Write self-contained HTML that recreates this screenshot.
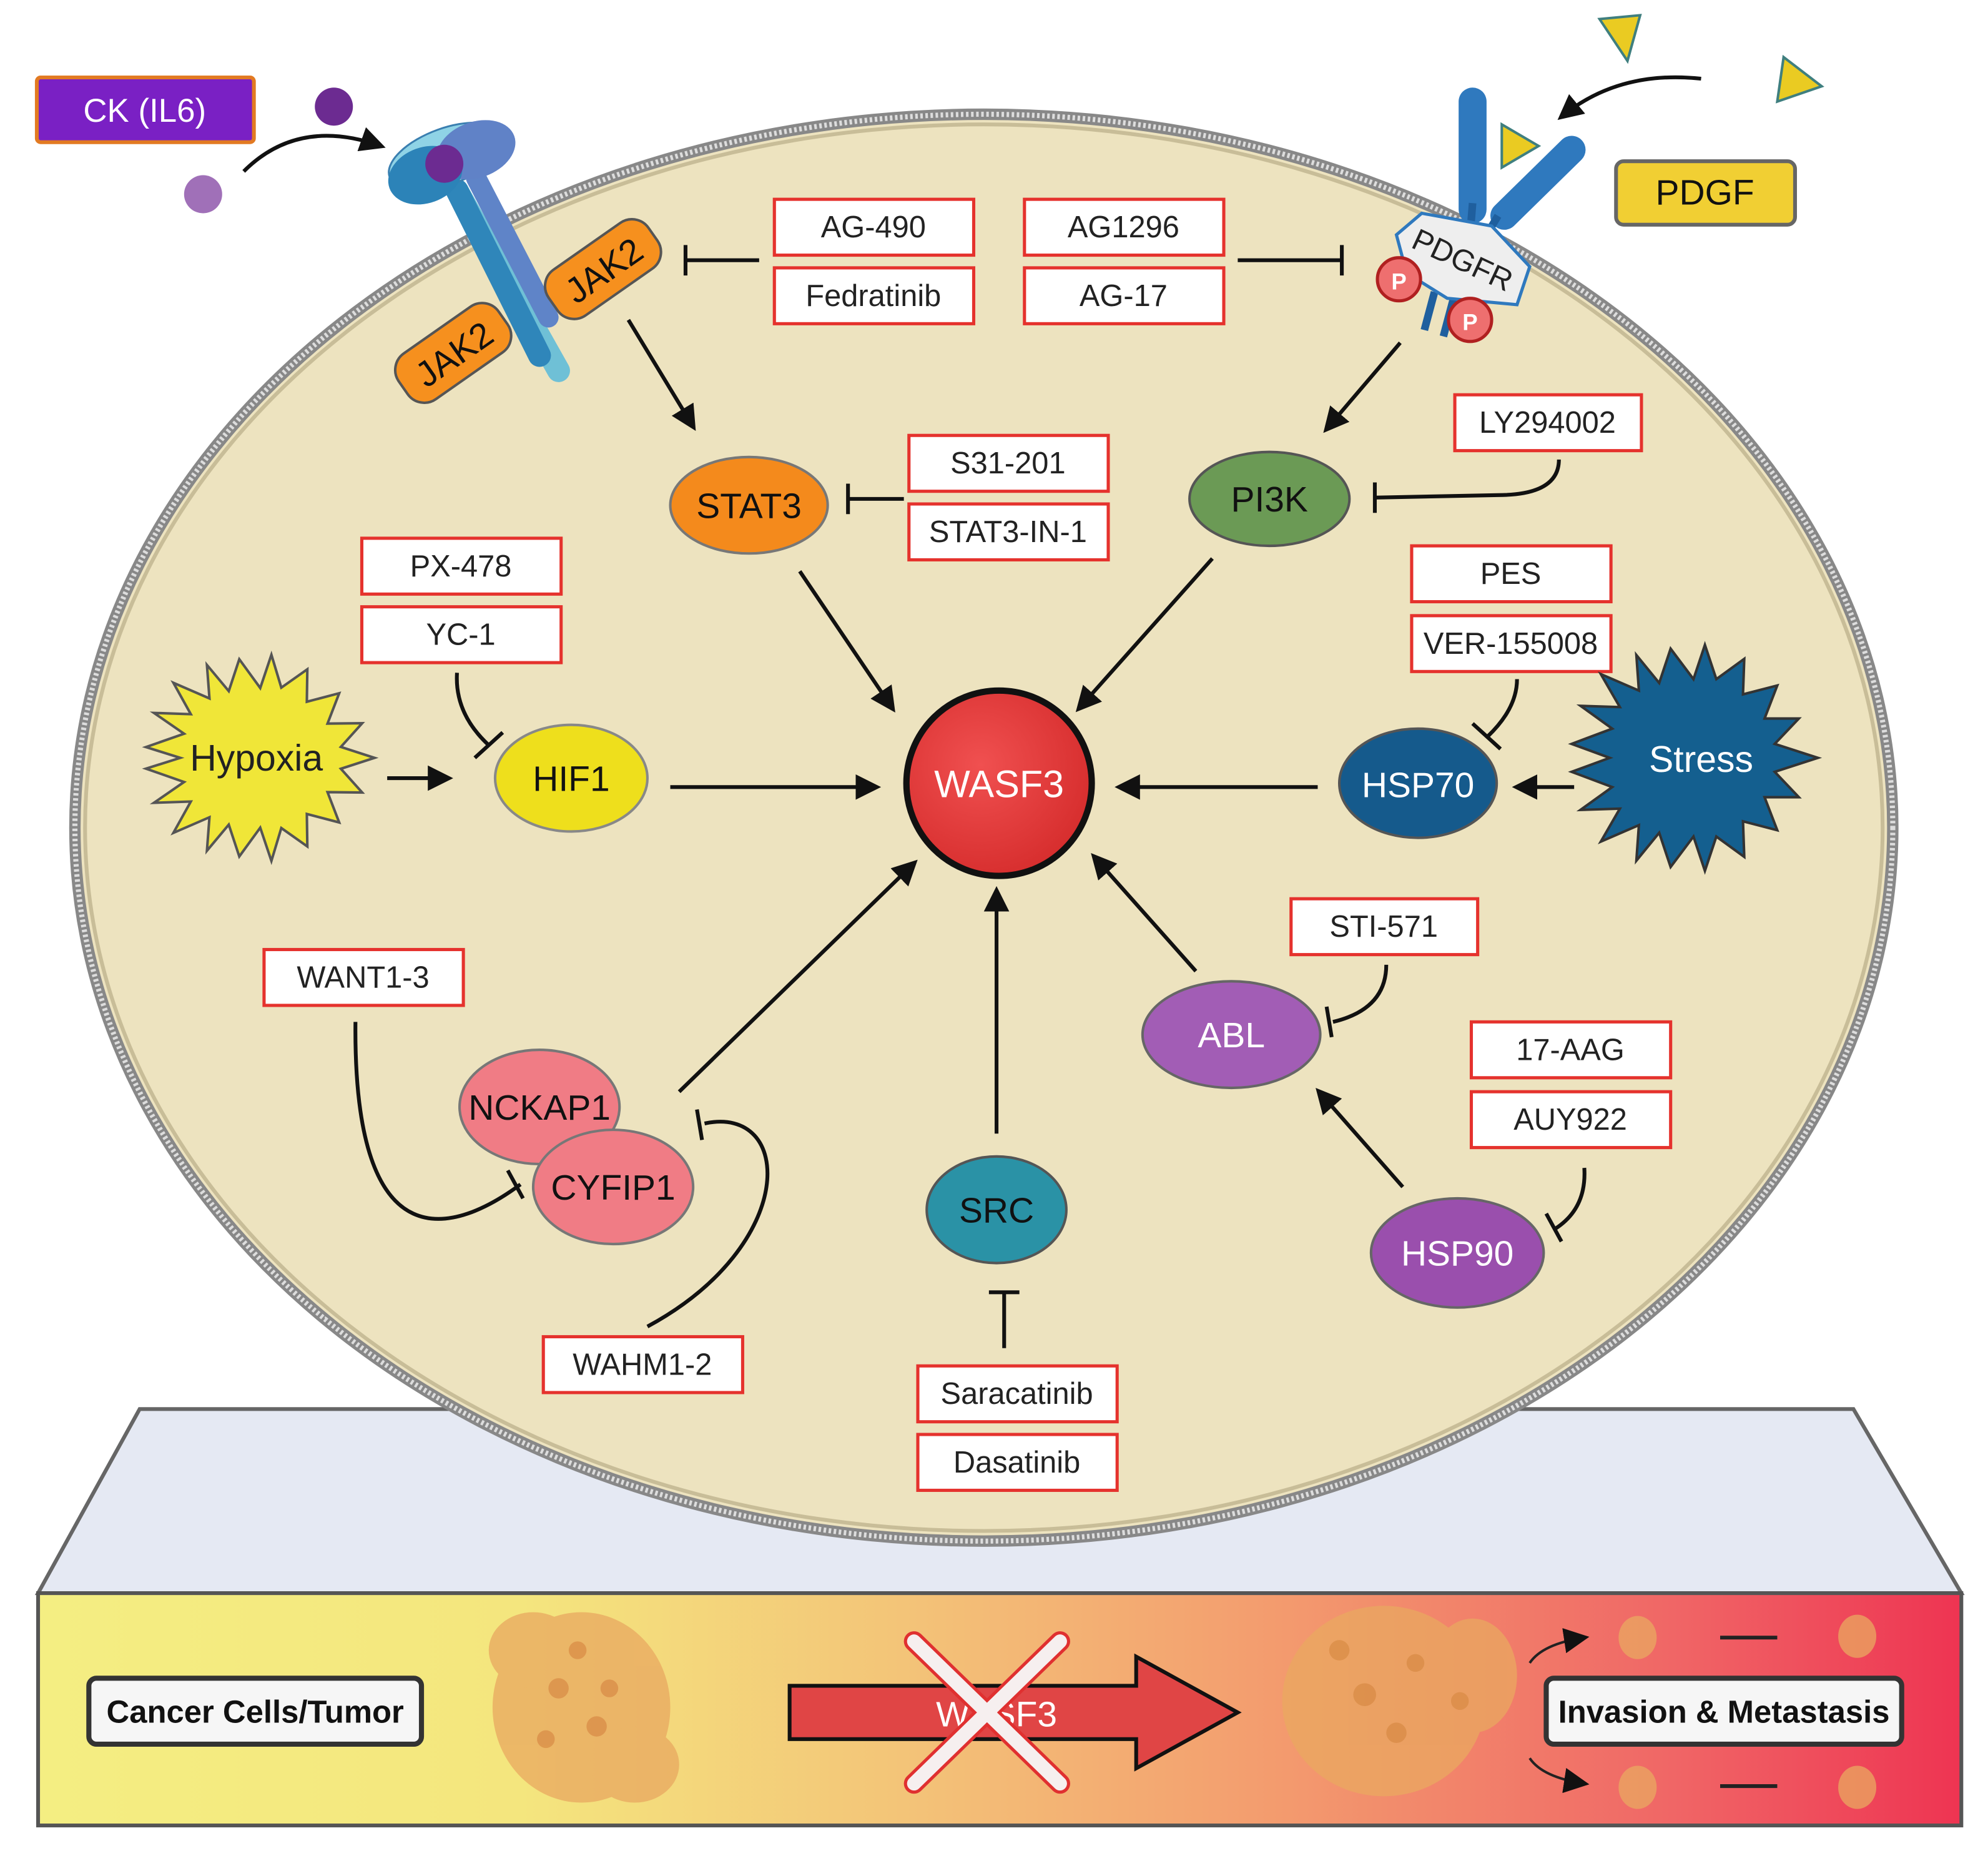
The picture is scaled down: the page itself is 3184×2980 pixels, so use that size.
<!DOCTYPE html>
<html><head><meta charset="utf-8"><style>
html,body{margin:0;padding:0;background:#fff}
svg{display:block}
text{font-family:"Liberation Sans",sans-serif}
</style></head><body>
<svg width="3184" height="2980" viewBox="0 0 1566 1466" preserveAspectRatio="none" xmlns="http://www.w3.org/2000/svg">
<defs>
<marker id="a" viewBox="0 0 10 10" refX="8" refY="5" markerWidth="20" markerHeight="20" markerUnits="userSpaceOnUse" orient="auto"><path d="M0,0 L10,5 L0,10 z" fill="#111"/></marker>
<linearGradient id="bg" x1="0" x2="1" y1="0" y2="0">
<stop offset="0" stop-color="#f4ee82"/><stop offset="0.25" stop-color="#f4e67e"/><stop offset="0.45" stop-color="#f3c478"/><stop offset="0.65" stop-color="#f39a6e"/><stop offset="0.85" stop-color="#f06666"/><stop offset="1" stop-color="#ee3452"/></linearGradient>
<radialGradient id="wg" cx="0.4" cy="0.4" r="0.7"><stop offset="0" stop-color="#f05050"/><stop offset="1" stop-color="#d42a2a"/></radialGradient>
</defs>

<polygon points="110,1110 1460,1110 1545,1255 30,1255" fill="#e5e9f3" stroke="#666" stroke-width="3"/>
<rect x="30" y="1255" width="1515" height="183" fill="url(#bg)" stroke="#555" stroke-width="3"/>

<ellipse cx="775" cy="652" rx="716" ry="562" fill="#ede3bf" stroke="#888" stroke-width="9"/>
<ellipse cx="775" cy="652" rx="716" ry="562" fill="none" stroke="#ddd" stroke-width="4" stroke-dasharray="2 2"/>
<ellipse cx="775" cy="652" rx="708" ry="554" fill="none" stroke="#c8bd98" stroke-width="3"/>

<rect x="29" y="61" width="171" height="51" rx="3" fill="#7a20c4" stroke="#e27a22" stroke-width="3"/>
<text x="114" y="96" font-size="26" fill="#fff" text-anchor="middle">CK (IL6)</text>
<circle cx="263" cy="84" r="15" fill="#6c2b91"/>
<circle cx="160" cy="153" r="15" fill="#a070b8"/>
<path d="M192,135 Q235,92 300,115" fill="none" stroke="#111" stroke-width="3" marker-end="url(#a)"/>

<g>
<line x1="360" y1="150" x2="440" y2="292" stroke="#6fc0d6" stroke-width="18" stroke-linecap="round"/>
<line x1="360" y1="150" x2="425" y2="280" stroke="#2f86ba" stroke-width="18" stroke-linecap="round"/>
<line x1="375" y1="140" x2="432" y2="250" stroke="#5f84c8" stroke-width="16" stroke-linecap="round"/>
<ellipse cx="352" cy="123" rx="48" ry="22" transform="rotate(-20 352 123)" fill="#8fd3e6" stroke="#3a7fb0" stroke-width="1.5"/>
<ellipse cx="375" cy="118" rx="32" ry="22" transform="rotate(-20 375 118)" fill="#6082c7"/>
<ellipse cx="335" cy="138" rx="30" ry="22" transform="rotate(-20 335 138)" fill="#2c83b8"/>
<circle cx="350" cy="129" r="15" fill="#6c2b91"/>
</g>
<g transform="rotate(-35 475 212)"><rect x="427" y="190" width="96" height="44" rx="16" fill="#f6901e" stroke="#555" stroke-width="2"/><text x="475" y="223" font-size="28" text-anchor="middle" fill="#111">JAK2</text></g>
<g transform="rotate(-35 357 278)"><rect x="309" y="256" width="96" height="44" rx="16" fill="#f6901e" stroke="#555" stroke-width="2"/><text x="357" y="289" font-size="28" text-anchor="middle" fill="#111">JAK2</text></g>

<polygon points="1260,15 1292,12 1282,48" fill="#eacb22" stroke="#3f7f7f" stroke-width="2"/>
<polygon points="1405,45 1435,68 1400,80" fill="#eacb22" stroke="#3f7f7f" stroke-width="2"/>
<polygon points="1183,98 1212,115 1183,132" fill="#eacb22" stroke="#3f7f7f" stroke-width="2"/>
<path d="M1340,62 Q1275,55 1230,92" fill="none" stroke="#111" stroke-width="3" marker-end="url(#a)"/>
<line x1="1160" y1="80" x2="1160" y2="165" stroke="#2f79be" stroke-width="22" stroke-linecap="round"/>
<line x1="1238" y1="118" x2="1185" y2="170" stroke="#2f79be" stroke-width="22" stroke-linecap="round"/>
<line x1="1160" y1="160" x2="1158" y2="185" stroke="#1f5f9e" stroke-width="6"/>
<line x1="1180" y1="170" x2="1168" y2="190" stroke="#1f5f9e" stroke-width="6"/>
<line x1="1130" y1="230" x2="1122" y2="260" stroke="#1f5f9e" stroke-width="6"/>
<line x1="1145" y1="235" x2="1137" y2="265" stroke="#1f5f9e" stroke-width="6"/>
<polygon points="1120,168 1175,178 1205,210 1195,240 1140,235 1108,215 1100,185" fill="#eee" stroke="#2f79be" stroke-width="2.5"/>
<text x="1152" y="213" font-size="24" text-anchor="middle" fill="#222" transform="rotate(25 1152 205)">PDGFR</text>
<circle cx="1102" cy="220" r="17" fill="#ee6f6f" stroke="#b02020" stroke-width="2.5"/><text x="1102" y="228" font-size="18" fill="#fff" text-anchor="middle" font-weight="bold">P</text>
<circle cx="1158" cy="252" r="17" fill="#ee6f6f" stroke="#b02020" stroke-width="2.5"/><text x="1158" y="260" font-size="18" fill="#fff" text-anchor="middle" font-weight="bold">P</text>
<rect x="1273" y="127" width="141" height="50" rx="6" fill="#f1cf33" stroke="#666" stroke-width="3"/>
<text x="1343" y="161" font-size="28" text-anchor="middle" fill="#111">PDGF</text>

<g fill="#fff" stroke="#e5322d" stroke-width="2.5">
<rect x="610" y="157" width="157" height="44"/><rect x="610" y="211" width="157" height="44"/>
<rect x="807" y="157" width="157" height="44"/><rect x="807" y="211" width="157" height="44"/>
<rect x="716" y="343" width="157" height="44"/><rect x="716" y="397" width="157" height="44"/>
<rect x="1146" y="311" width="147" height="44"/>
<rect x="1112" y="430" width="157" height="44"/><rect x="1112" y="485" width="157" height="44"/>
<rect x="285" y="424" width="157" height="44"/><rect x="285" y="478" width="157" height="44"/>
<rect x="208" y="748" width="157" height="44"/>
<rect x="428" y="1053" width="157" height="44"/>
<rect x="1017" y="708" width="147" height="44"/>
<rect x="1159" y="805" width="157" height="44"/><rect x="1159" y="860" width="157" height="44"/>
<rect x="723" y="1076" width="157" height="44"/><rect x="723" y="1130" width="157" height="44"/>
</g>
<g font-size="24" text-anchor="middle" fill="#222">
<text x="688" y="187">AG-490</text><text x="688" y="241">Fedratinib</text>
<text x="885" y="187">AG1296</text><text x="885" y="241">AG-17</text>
<text x="794" y="373">S31-201</text><text x="794" y="427">STAT3-IN-1</text>
<text x="1219" y="341">LY294002</text>
<text x="1190" y="460">PES</text><text x="1190" y="515">VER-155008</text>
<text x="363" y="454">PX-478</text><text x="363" y="508">YC-1</text>
<text x="286" y="778">WANT1-3</text>
<text x="506" y="1083">WAHM1-2</text>
<text x="1090" y="738">STI-571</text>
<text x="1237" y="835">17-AAG</text><text x="1237" y="890">AUY922</text>
<text x="801" y="1106">Saracatinib</text><text x="801" y="1160">Dasatinib</text>
</g>

<g fill="none" stroke="#111" stroke-width="3">
<line x1="495" y1="252" x2="546" y2="336" marker-end="url(#a)"/>
<line x1="1103" y1="270" x2="1045" y2="338" marker-end="url(#a)"/>
<line x1="630" y1="450" x2="703" y2="558" marker-end="url(#a)"/>
<line x1="955" y1="440" x2="850" y2="558" marker-end="url(#a)"/>
<line x1="528" y1="620" x2="690" y2="620" marker-end="url(#a)"/>
<line x1="1038" y1="620" x2="882" y2="620" marker-end="url(#a)"/>
<line x1="305" y1="613" x2="353" y2="613" marker-end="url(#a)"/>
<line x1="1240" y1="620" x2="1195" y2="620" marker-end="url(#a)"/>
<line x1="942" y1="765" x2="862" y2="675" marker-end="url(#a)"/>
<line x1="785" y1="893" x2="785" y2="702" marker-end="url(#a)"/>
<line x1="535" y1="860" x2="720" y2="680" marker-end="url(#a)"/>
<line x1="1105" y1="935" x2="1039" y2="860" marker-end="url(#a)"/>
<line x1="598" y1="205" x2="540" y2="205"/><line x1="540" y1="193" x2="540" y2="217"/>
<line x1="975" y1="205" x2="1057" y2="205"/><line x1="1057" y1="193" x2="1057" y2="217"/>
<line x1="712" y1="393" x2="668" y2="393"/><line x1="668" y1="381" x2="668" y2="405"/>
<path d="M1228,362 Q1228,390 1180,390 L1083,392"/><line x1="1083" y1="380" x2="1083" y2="404"/>
<path d="M1195,535 Q1195,558 1172,580"/><line x1="1160" y1="570" x2="1182" y2="590"/>
<path d="M360,530 Q358,562 385,587"/><line x1="374" y1="597" x2="396" y2="577"/>
<path d="M280,805 C278,1000 360,970 410,933"/><line x1="400" y1="922" x2="412" y2="944"/>
<path d="M510,1045 C630,980 625,870 555,885"/><line x1="549" y1="874" x2="553" y2="898"/>
<path d="M1092,760 Q1092,795 1050,805"/><line x1="1045" y1="793" x2="1049" y2="817"/>
<path d="M1248,920 Q1250,952 1225,968"/><line x1="1218" y1="956" x2="1230" y2="978"/>
<line x1="791" y1="1062" x2="791" y2="1018"/><line x1="779" y1="1018" x2="803" y2="1018"/>
</g>

<ellipse cx="590" cy="398" rx="62" ry="38" fill="#f48a1c" stroke="#777" stroke-width="2"/>
<text x="590" y="408" font-size="28" text-anchor="middle" fill="#111">STAT3</text>
<ellipse cx="1000" cy="393" rx="63" ry="37" fill="#6b9a55" stroke="#555" stroke-width="2"/>
<text x="1000" y="403" font-size="28" text-anchor="middle" fill="#111">PI3K</text>
<circle cx="787" cy="617" r="73" fill="url(#wg)" stroke="#111" stroke-width="5"/>
<text x="787" y="628" font-size="30" text-anchor="middle" fill="#fff">WASF3</text>
<ellipse cx="450" cy="613" rx="60" ry="42" fill="#eedf1c" stroke="#888" stroke-width="2"/>
<text x="450" y="623" font-size="28" text-anchor="middle" fill="#111">HIF1</text>
<ellipse cx="1117" cy="617" rx="62" ry="43" fill="#155a8c" stroke="#555" stroke-width="2"/>
<text x="1117" y="628" font-size="28" text-anchor="middle" fill="#fff">HSP70</text>
<ellipse cx="970" cy="815" rx="70" ry="42" fill="#a25db5" stroke="#666" stroke-width="2"/>
<text x="970" y="825" font-size="28" text-anchor="middle" fill="#fff">ABL</text>
<ellipse cx="1148" cy="987" rx="68" ry="43" fill="#9a4fad" stroke="#666" stroke-width="2"/>
<text x="1148" y="997" font-size="28" text-anchor="middle" fill="#fff">HSP90</text>
<ellipse cx="785" cy="953" rx="55" ry="42" fill="#2a92a6" stroke="#555" stroke-width="2"/>
<text x="785" y="963" font-size="28" text-anchor="middle" fill="#111">SRC</text>
<ellipse cx="425" cy="872" rx="63" ry="45" fill="#f07c85" stroke="#777" stroke-width="2"/>
<text x="425" y="882" font-size="28" text-anchor="middle" fill="#111">NCKAP1</text>
<ellipse cx="483" cy="935" rx="63" ry="45" fill="#f07c85" stroke="#777" stroke-width="2"/>
<text x="483" y="945" font-size="28" text-anchor="middle" fill="#111">CYFIP1</text>

<polygon fill="#f0e638" stroke="#555" stroke-width="2" points="295.0,597.0 268.5,605.6 285.3,624.3 258.0,624.0 267.2,647.9 241.7,641.2 242.1,666.8 221.6,652.3 213.8,678.2 205.0,652.0 188.5,674.7 180.2,649.6 163.0,670.2 165.0,643.8 136.6,656.1 150.3,631.4 121.3,632.4 145.0,616.0 115.0,605.5 142.0,597.0 115.0,588.5 145.0,578.0 121.3,561.6 150.3,562.6 136.6,537.9 165.0,550.2 163.0,523.8 180.2,544.4 188.5,519.3 205.0,542.0 213.8,515.8 221.6,541.7 242.1,527.2 241.7,552.8 267.2,546.1 258.0,570.0 285.3,569.7 268.5,588.4"/>
<text x="202" y="607" font-size="29" text-anchor="middle" fill="#222">Hypoxia</text>
<polygon fill="#145f8f" stroke="#333" stroke-width="2" points="1432,597 1398,608 1417,628 1390,628 1400,654 1373,647 1374,675 1352,659 1343,686 1334,659 1316,683 1307,656 1289,678 1291,650 1261,663 1276,637 1245,638 1270,620 1238,608 1268,597 1238,586 1270,574 1245,556 1276,557 1261,531 1291,544 1289,516 1307,538 1316,511 1334,535 1343,508 1352,535 1374,519 1373,547 1400,540 1390,566 1417,566 1398,586"/>
<text x="1340" y="608" font-size="29" text-anchor="middle" fill="#fff">Stress</text>

<rect x="70" y="1322" width="262" height="52" rx="6" fill="#f6f6f6" stroke="#333" stroke-width="4"/>
<text x="201" y="1357" font-size="25" font-weight="bold" text-anchor="middle" fill="#111">Cancer Cells/Tumor</text>
<rect x="1218" y="1322" width="280" height="52" rx="6" fill="#f6f6f6" stroke="#333" stroke-width="4"/>
<text x="1358" y="1357" font-size="25" font-weight="bold" text-anchor="middle" fill="#111">Invasion &amp; Metastasis</text>
<g fill="#e9a860" opacity="0.75">
<ellipse cx="458" cy="1345" rx="70" ry="75"/><ellipse cx="420" cy="1300" rx="35" ry="30"/><ellipse cx="500" cy="1390" rx="35" ry="30"/>
<ellipse cx="1090" cy="1340" rx="80" ry="75"/><ellipse cx="1160" cy="1320" rx="35" ry="45"/>
<ellipse cx="1290" cy="1290" rx="15" ry="17"/><ellipse cx="1463" cy="1289" rx="15" ry="17"/>
<ellipse cx="1290" cy="1408" rx="15" ry="17"/><ellipse cx="1463" cy="1408" rx="15" ry="17"/>
</g>
<g fill="#d88a45" opacity="0.7">
<circle cx="440" cy="1330" r="8"/><circle cx="470" cy="1360" r="8"/><circle cx="455" cy="1300" r="7"/><circle cx="480" cy="1330" r="7"/><circle cx="430" cy="1370" r="7"/>
<circle cx="1075" cy="1335" r="9"/><circle cx="1100" cy="1365" r="8"/><circle cx="1055" cy="1300" r="8"/><circle cx="1115" cy="1310" r="7"/><circle cx="1150" cy="1340" r="7"/>
</g>
<g stroke="#222" stroke-width="2" fill="none">
<path d="M1205,1310 Q1215,1295 1248,1290" marker-end="url(#a)"/>
<path d="M1205,1385 Q1215,1400 1248,1405" marker-end="url(#a)"/>
<line x1="1355" y1="1290" x2="1400" y2="1290" stroke-width="3"/>
<line x1="1355" y1="1407" x2="1400" y2="1407" stroke-width="3"/>
</g>
<polygon points="622,1328 895,1328 895,1305 975,1349 895,1393 895,1370 622,1370" fill="#e04545" stroke="#111" stroke-width="3"/>
<text x="785" y="1360" font-size="28" fill="#fff" text-anchor="middle">WASF3</text>
<g stroke="#e03030" stroke-width="16" stroke-linecap="round"><line x1="720" y1="1293" x2="835" y2="1405"/><line x1="835" y1="1293" x2="720" y2="1405"/></g>
<g stroke="#f6efef" stroke-width="11" stroke-linecap="round"><line x1="720" y1="1293" x2="835" y2="1405"/><line x1="835" y1="1293" x2="720" y2="1405"/></g>
</svg>
</body></html>
